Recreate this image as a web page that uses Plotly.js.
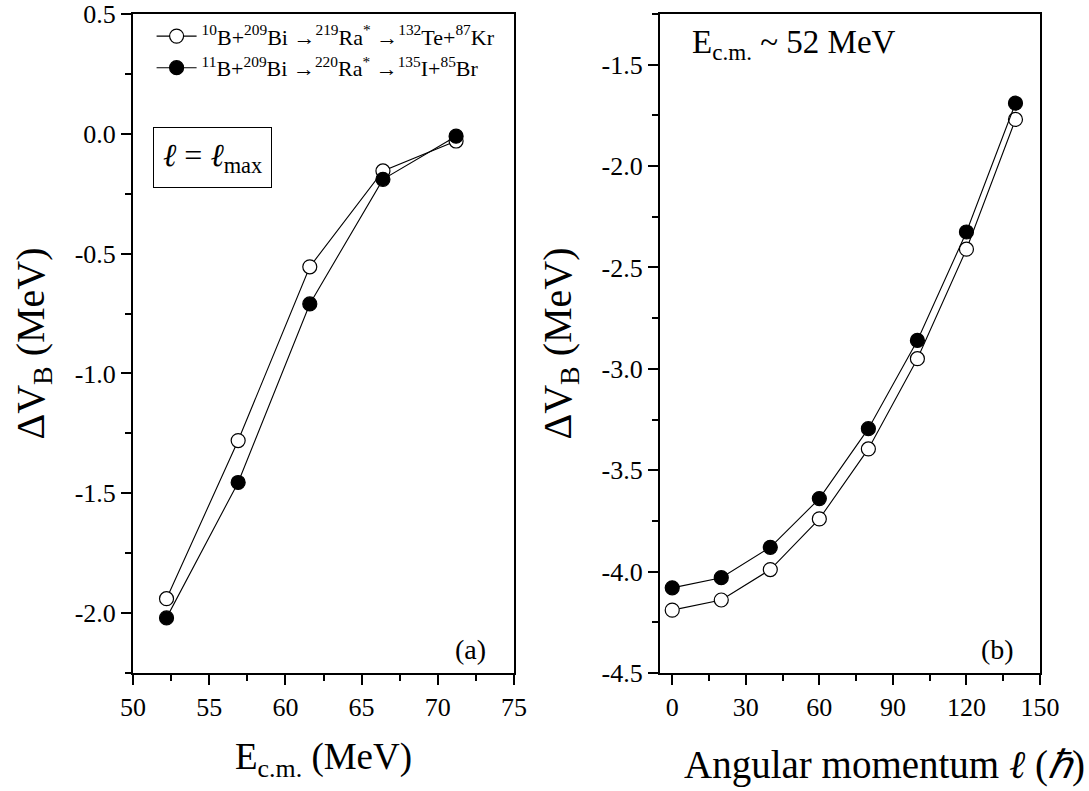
<!DOCTYPE html>
<html>
<head>
<meta charset="utf-8">
<script src="https://cdn.plot.ly/plotly-3.0.1.min.js"></script>
<style>html,body{margin:0;padding:0;background:#fff}</style>
</head>
<body>
<div id="chart" style="width:1089px;height:791px"></div>
<script>
// Panel (a): barrier modification at l = lmax versus centre-of-mass energy
const ecm    = [52.2, 56.9, 61.6, 66.4, 71.2];
const dvB10  = [-1.94, -1.28, -0.555, -0.155, -0.03];
const dvB11  = [-2.02, -1.455, -0.71, -0.19, -0.01];

// Panel (b): barrier modification versus angular momentum at Ecm ~ 52 MeV
const ell    = [0, 20, 40, 60, 80, 100, 120, 140];
const dvB10L = [-4.19, -4.14, -3.99, -3.74, -3.395, -2.95, -2.41, -1.77];
const dvB11L = [-4.08, -4.03, -3.88, -3.64, -3.295, -2.86, -2.325, -1.69];

// Reaction labels
const name10 = '<sup>10</sup>B+<sup>209</sup>Bi →<sup>219</sup>Ra<sup>*</sup> →<sup>132</sup>Te+<sup>87</sup>Kr';
const name11 = '<sup>11</sup>B+<sup>209</sup>Bi →<sup>220</sup>Ra<sup>*</sup> →<sup>135</sup>I+<sup>85</sup>Br';

// Tick positions and labels
const xaTicks = [50, 55, 60, 65, 70, 75];
const xaText  = ['50', '55', '60', '65', '70', '75'];
const yaTicks = [0.5, 0.0, -0.5, -1.0, -1.5, -2.0];
const yaText  = ['0.5', '0.0', '-0.5', '-1.0', '-1.5', '-2.0'];
const xbTicks = [0, 30, 60, 90, 120, 150];
const xbText  = ['0', '30', '60', '90', '120', '150'];
const ybTicks = [-1.5, -2.0, -2.5, -3.0, -3.5, -4.0, -4.5];
const ybText  = ['-1.5', '-2.0', '-2.5', '-3.0', '-3.5', '-4.0', '-4.5'];

const FONT = '"Liberation Serif", "Times New Roman", serif';

function series(x, y, name, filled, xa, ya, showlegend) {
  return {
    x: x, y: y, name: name, xaxis: xa, yaxis: ya,
    type: 'scatter', mode: 'lines+markers', showlegend: showlegend,
    line: {color: '#000', width: 1.1},
    marker: {symbol: 'circle', size: 14, color: filled ? '#000' : '#fff',
             line: {color: '#000', width: 1.2}}
  };
}

const traces = [
  series(ecm, dvB10, name10, false, 'x', 'y', true),
  series(ecm, dvB11, name11, true, 'x', 'y', true),
  series(ell, dvB10L, name10, false, 'x2', 'y2', false),
  series(ell, dvB11L, name11, true, 'x2', 'y2', false)
];

function axis(extra) {
  return Object.assign({
    showline: true, linecolor: '#000', linewidth: 2, mirror: true,
    showgrid: false, zeroline: false,
    ticks: 'outside', ticklen: 10, tickwidth: 2, tickcolor: '#000',
    tickmode: 'array',
    tickfont: {family: FONT, size: 26, color: '#000'},
    automargin: false
  }, extra);
}

function minor(tick0, dtick) {
  return {tickmode: 'linear', tick0: tick0, dtick: dtick, ticks: 'outside',
          ticklen: 6, tickwidth: 2, tickcolor: '#000', showgrid: false};
}

const layout = {
  width: 1089, height: 791,
  paper_bgcolor: '#fff', plot_bgcolor: '#fff',
  margin: {l: 133, r: 49, t: 14, b: 118},
  font: {family: FONT, color: '#000'},
  xaxis: axis({
    domain: [0, 0.42007], range: [50, 75], tickvals: xaTicks, ticktext: xaText, anchor: 'y',
    minor: minor(50, 2.5),
    title: {text: 'E<sub>c.m.</sub> (MeV)', font: {family: FONT, size: 37, color: '#000'}, standoff: 22}
  }),
  yaxis: axis({
    domain: [0, 1], range: [-2.25, 0.5], tickvals: yaTicks, ticktext: yaText, anchor: 'x',
    minor: minor(0, 0.25),
    title: {text: 'ΔV<sub>B</sub> (MeV)', font: {family: FONT, size: 40, color: '#000'}, standoff: 18}
  }),
  xaxis2: axis({
    domain: [0.5810, 1], range: [-5, 150], tickvals: xbTicks, ticktext: xbText, anchor: 'y2',
    minor: minor(0, 15)
  }),
  yaxis2: axis({
    domain: [0, 1], range: [-4.5, -1.25], tickvals: ybTicks, ticktext: ybText, anchor: 'x2',
    minor: minor(-1.5, 0.25),
    title: {text: 'ΔV<sub>B</sub> (MeV)', font: {family: FONT, size: 40, color: '#000'}, standoff: 18}
  }),
  legend: {
    x: 0.0205, y: 0.998, xanchor: 'left', yanchor: 'top',
    bgcolor: 'rgba(0,0,0,0)', borderwidth: 0,
    font: {family: FONT, size: 22, color: '#000'},
    tracegroupgap: 0, itemwidth: 40
  },
  annotations: [
    {xref: 'x domain', yref: 'y domain', x: 0.885, y: 0.035, xanchor: 'center', yanchor: 'middle',
     text: '(a)', showarrow: false, font: {family: FONT, size: 28, color: '#000'}},
    {xref: 'x2 domain', yref: 'y2 domain', x: 0.887, y: 0.035, xanchor: 'center', yanchor: 'middle',
     text: '(b)', showarrow: false, font: {family: FONT, size: 28, color: '#000'}},
    {xref: 'x domain', yref: 'y domain', x: 0.209, y: 0.783, xanchor: 'center', yanchor: 'middle',
     text: '<i>ℓ</i> = <i>ℓ</i><sub>max</sub>', showarrow: false,
     bordercolor: '#000', borderwidth: 1, borderpad: 9, bgcolor: '#fff',
     font: {family: FONT, size: 32, color: '#000'}},
    {xref: 'x2 domain', yref: 'y2 domain', x: 0.079, y: 0.953, xanchor: 'left', yanchor: 'middle',
     text: 'E<sub>c.m.</sub> ~ 52 MeV', showarrow: false,
     font: {family: FONT, size: 33, color: '#000'}},
    // title of the angular-momentum axis
    {xref: 'x2 domain', yref: 'paper', x: 0.592, y: -0.14, xanchor: 'center', yanchor: 'middle',
     text: 'Angular momentum <i>ℓ</i> (<i>ℏ</i>)', showarrow: false,
     font: {family: FONT, size: 39, color: '#000'}}
  ]
};

Plotly.newPlot('chart', traces, layout, {displayModeBar: false, staticPlot: true});
</script>
</body>
</html>
